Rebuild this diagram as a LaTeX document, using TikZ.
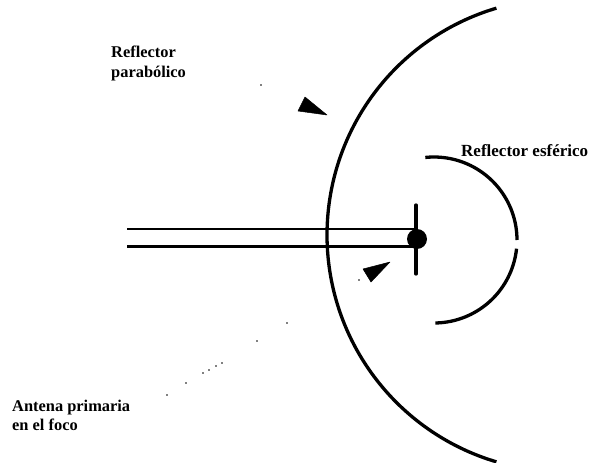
\documentclass[tikz,border=0pt]{standalone}
\usepackage{fontspec}
\setmainfont{Liberation Serif}
\begin{document}
\begin{tikzpicture}[x=1pt,y=-1pt,
  lbl/.style={anchor=base west,inner sep=0pt,font=\fontsize{16.4}{20}\selectfont\bfseries,text=black},
  curve/.style={line width=3.3pt,draw=black},
  feed/.style={line width=2.8pt,draw=black},
  speck/.style={fill=black,draw=none,circle,minimum size=1.6pt,inner sep=0pt},
  wedge/.style={fill=black,draw=black,line width=0.5pt,line join=round}]
\useasboundingbox (0,0) rectangle (590,463);
\fill[white] (0,0) rectangle (590,463);
% parabolic reflector (circle c=(563.6,235), r=236.6)
\draw[curve] plot[smooth,samples=60,domain=106.5:253.5,variable=\a]
  ({563.6+236.6*cos(\a)},{235-236.6*sin(\a)});
% spherical reflector (c=(434,240), r=83)
\draw[curve] plot[smooth,samples=40,domain=96:0,variable=\a]
  ({434+83*cos(\a)},{240-83*sin(\a)});
\draw[curve] plot[smooth,samples=40,domain=-6:-89,variable=\a]
  ({434+83*cos(\a)},{240-83*sin(\a)});
% feed
\node[circle,fill=black,minimum size=20pt,inner sep=0pt] (foco) at (417,239) {};
\coordinate (a1) at (127,229);
\coordinate (a2) at (127,246.5);
\draw[feed] (a1) -- (foco.center |- a1);
\draw[feed] (a2) -- (foco.center |- a2);
\coordinate (b1) at (416,205);
\coordinate (b2) at (416,274);
\draw[line width=3.3pt,line cap=round] (b1) -- (b2);
% arrowheads
\fill[wedge] (305,97) -- (327,115) -- (298,111) -- cycle;
\fill[wedge] (390,262) -- (363,269) -- (371,282) -- cycle;
% specks of leader lines
\foreach \n/\p in {s1/{(261,85)},s2/{(359,280)},s3/{(287,323)},s4/{(257,341)},s5/{(222,363)},s6/{(216,366)},s7/{(209,370)},s8/{(203,373)},s9/{(186,383)},s10/{(167,395)}}
  \node[speck] (\n) at \p {};
% labels
\node[lbl] (t1) at (111,57) {Reflector};
\node[lbl] (t2) at (111,77) {parabólico};
\node[lbl,font=\fontsize{17}{20}\selectfont\bfseries] (t3) at (461,156) {Reflector esférico};
\node[lbl] (t4) at (12,411) {Antena primaria};
\node[lbl] (t5) at (12,430) {en el foco};
\end{tikzpicture}
\end{document}
